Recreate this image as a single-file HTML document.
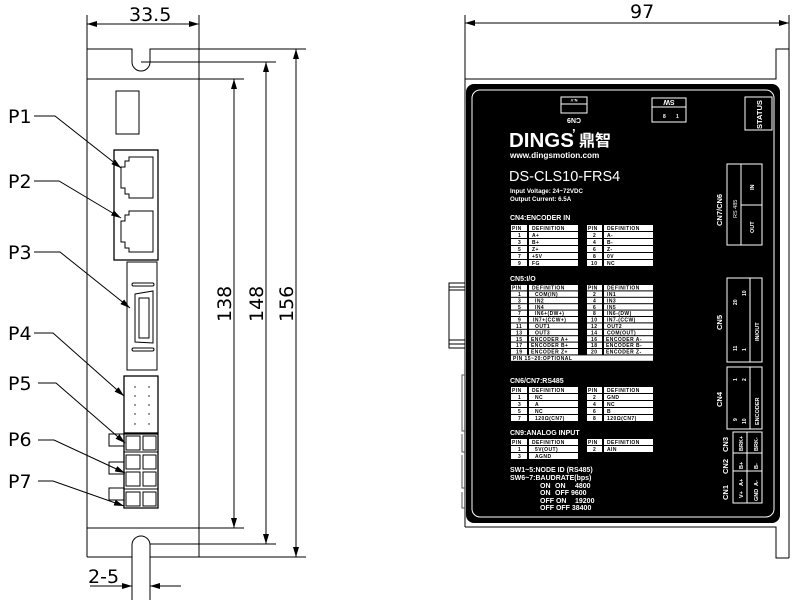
<!DOCTYPE html>
<html><head><meta charset="utf-8"><style>
html,body{margin:0;padding:0;background:#fff;width:800px;height:601px;overflow:hidden}
svg{display:block}
.d{font-family:"DejaVu Sans","Liberation Sans",sans-serif}
.t{font-family:"Liberation Sans",sans-serif;font-weight:bold;font-size:5px;letter-spacing:0.45px;fill:#000}
.w{font-family:"Liberation Sans",sans-serif;font-weight:bold;fill:#fff}
</style></head><body>
<svg width="800" height="601" viewBox="0 0 800 601" xmlns="http://www.w3.org/2000/svg">
<defs>
<marker id="a" viewBox="0 0 10 6" refX="10" refY="3" markerWidth="10" markerHeight="6" orient="auto-start-reverse" markerUnits="userSpaceOnUse"><path d="M0,0L10,3L0,6z" fill="#000"/></marker>
</defs>
<g fill="none" stroke="#000" stroke-width="1">
<line x1="87" y1="15" x2="87" y2="557"/>
<line x1="199" y1="15" x2="199" y2="557"/>
<line x1="87" y1="24" x2="199" y2="24" marker-start="url(#a)" marker-end="url(#a)"/>
<path d="M87,49H132V62A9,9 0 0 0 150,62V49H306"/>
<line x1="141" y1="62" x2="276" y2="62"/>
<line x1="87" y1="79" x2="244" y2="79"/>
<line x1="87" y1="528" x2="244" y2="528"/>
<line x1="141" y1="544" x2="276" y2="544"/>
<line x1="87" y1="557" x2="306" y2="557"/>
<path d="M132,600V545A9,9 0 0 1 150,545V600" fill="#fff"/>
<line x1="234" y1="79" x2="234" y2="528" marker-start="url(#a)" marker-end="url(#a)"/>
<line x1="266" y1="62" x2="266" y2="544" marker-start="url(#a)" marker-end="url(#a)"/>
<line x1="296" y1="49" x2="296" y2="557" marker-start="url(#a)" marker-end="url(#a)"/>
<line x1="90" y1="586" x2="132" y2="586" marker-end="url(#a)"/>
<line x1="181" y1="586" x2="150" y2="586" marker-end="url(#a)"/>
<rect x="116" y="91" width="23" height="43"/>
<rect x="114" y="150" width="44" height="110" stroke-width="1.3"/>
<path d="M129,157H153V198H129V194H125V188H121V167H125V161H129Z"/>
<path d="M129,211H153V252H129V248H125V242H121V221H125V215H129Z"/>
<rect x="127" y="262" width="30" height="108" fill="#fff"/>
<rect x="132" y="283" width="22" height="3" rx="1.5"/>
<rect x="132" y="348" width="22" height="3" rx="1.5"/>
<path d="M135,294L153,291V343L135,342Z"/>
<rect x="139" y="298" width="10" height="40"/>
<rect x="124" y="376" width="34" height="57" stroke-width="1.3"/>
<path d="M124,434H158V508H124Z" stroke-width="1.3"/>
<rect x="126" y="436" width="14" height="14"/><rect x="143" y="436" width="13" height="14"/>
<rect x="126" y="455" width="14" height="14"/><rect x="143" y="455" width="13" height="14"/>
<rect x="126" y="472" width="14" height="14"/><rect x="143" y="472" width="13" height="14"/>
<rect x="126" y="492" width="14" height="14"/><rect x="143" y="492" width="13" height="14"/>
<line x1="124" y1="452" x2="158" y2="452"/><line x1="124" y1="489" x2="158" y2="489"/>
<path d="M124,434H109V446H124M124,462H109V474H124M124,488H109V500H124"/>
<path d="M34,116H55L121,168" marker-end="url(#a)"/>
<path d="M34,181H59L121,218" marker-end="url(#a)"/>
<path d="M34,252H60L130,308" marker-end="url(#a)"/>
<path d="M34,333H53L124,396" marker-end="url(#a)"/>
<path d="M38,383H56L125,443" marker-end="url(#a)"/>
<path d="M38,440H54L125,473" marker-end="url(#a)"/>
<path d="M38,481H53L124,506" marker-end="url(#a)"/>
</g>
<g fill="#000"><circle cx="135" cy="387" r=".7"/><circle cx="149" cy="387" r=".7"/><circle cx="135" cy="396" r=".7"/><circle cx="149" cy="396" r=".7"/><circle cx="135" cy="405" r=".7"/><circle cx="149" cy="405" r=".7"/><circle cx="135" cy="414" r=".7"/><circle cx="149" cy="414" r=".7"/><circle cx="135" cy="424" r=".7"/><circle cx="149" cy="424" r=".7"/></g>
<g class="d" font-size="19" fill="#000">
<text x="129" y="21">33.5</text>
<text x="8" y="123">P1</text><text x="8" y="188">P2</text><text x="8" y="259">P3</text>
<text x="8" y="340">P4</text><text x="8" y="390">P5</text><text x="8" y="446">P6</text><text x="8" y="488">P7</text>
<text x="88" y="583">2-5</text>
<text transform="translate(231,322) rotate(-90)">138</text>
<text transform="translate(263,322) rotate(-90)">148</text>
<text transform="translate(293,322) rotate(-90)">156</text>
<text x="630" y="18">97</text>
</g>
<g fill="none" stroke="#000" stroke-width="1">
<line x1="465" y1="15" x2="465" y2="527"/>
<line x1="789" y1="15" x2="789" y2="558"/>
<line x1="465" y1="23" x2="789" y2="23" marker-start="url(#a)" marker-end="url(#a)"/>
<path d="M789,49H776V79H465"/>
<path d="M465,527H776V558H789"/>
<path d="M465,283H449V290H465M449,287H465M449,290V340H465M449,340V348H465M449,344H465"/>
<path d="M465,375H462V431H465M462,434V452H465M462,455V488H465M462,492V508H465" stroke="#555"/>
</g>
<rect x="466" y="84" width="314" height="439" rx="8" fill="#000"/>
<rect x="472" y="90" width="302" height="427" rx="8" fill="none" stroke="#fff" stroke-width="1"/>
<g fill="none" stroke="#fff" stroke-width="1">
<rect x="561" y="97" width="26" height="16"/><line x1="561" y1="104" x2="587" y2="104"/>
<rect x="652" y="98" width="34" height="24"/><line x1="652" y1="107" x2="686" y2="107"/>
<rect x="745" y="97" width="27" height="33"/>
<rect x="727" y="164" width="35" height="81"/><line x1="741" y1="164" x2="741" y2="245"/><line x1="741" y1="205" x2="762" y2="205"/>
<rect x="727" y="278" width="35" height="84"/><line x1="750" y1="278" x2="750" y2="362"/>
<rect x="727" y="367" width="35" height="62"/><line x1="750" y1="367" x2="750" y2="429"/>
<rect x="733" y="432" width="29" height="71"/><line x1="747" y1="432" x2="747" y2="503"/><line x1="733" y1="453" x2="762" y2="453"/><line x1="733" y1="471" x2="762" y2="471"/>
</g>
<g class="w">
<text x="574" y="103" font-size="4" text-anchor="middle" transform="rotate(180 574 101)">N-V</text>
<text x="574" y="124" font-size="7" text-anchor="middle" transform="rotate(180 574 121)">CN9</text>
<text x="669" y="106" font-size="7" text-anchor="middle" transform="rotate(180 669 103)">SW</text>
<text x="663" y="118" font-size="5">8</text><text x="676" y="118" font-size="5">1</text>
<text transform="translate(762,129) rotate(-90)" font-size="7.5">STATUS</text>
<text x="509" y="147" font-size="20.5">DINGS</text>
<text x="572" y="138" font-size="13">’</text>
<text x="579" y="146" font-size="16" style="font-family:'Noto Sans CJK SC',sans-serif;font-weight:bold">鼎智</text>
<text x="510" y="158" font-size="8.2">www.dingsmotion.com</text>
<text x="509" y="181" font-size="14.5" style="font-weight:normal">DS-CLS10-FRS4</text>
<text x="510" y="193" font-size="6.2">Input Voltage: 24~72VDC</text>
<text x="510" y="201" font-size="6.2">Output Current: 6.5A</text>
<text x="510" y="220" font-size="7">CN4:ENCODER IN</text>
<text x="510" y="281" font-size="7">CN5:I/O</text>
<text x="510" y="383" font-size="7">CN6/CN7:RS485</text>
<text x="510" y="435" font-size="7">CN9:ANALOG INPUT</text>
<text x="510" y="472" font-size="7">SW1~5:NODE ID (RS485)</text>
<text x="510" y="480" font-size="7">SW6~7:BAUDRATE(bps)</text>
<text font-size="7"><tspan x="540" y="488">ON</tspan><tspan x="555" y="488">ON</tspan><tspan x="575" y="488">4800</tspan></text>
<text font-size="7"><tspan x="540" y="495">ON</tspan><tspan x="555" y="495">OFF 9600</tspan></text>
<text font-size="7"><tspan x="540" y="503">OFF ON</tspan><tspan x="575" y="503">19200</tspan></text>
<text font-size="7"><tspan x="540" y="510">OFF OFF 38400</tspan></text>
<text transform="translate(722,226) rotate(-90)" font-size="7.5">CN7/CN6</text>
<text transform="translate(737,218) rotate(-90)" font-size="5.5" style="font-weight:normal">RS 485</text>
<text transform="translate(754,190) rotate(-90)" font-size="5.5">IN</text>
<text transform="translate(754,233) rotate(-90)" font-size="5.5">OUT</text>
<text transform="translate(722,330) rotate(-90)" font-size="7.5">CN5</text>
<text transform="translate(737,305) rotate(-90)" font-size="5">20</text>
<text transform="translate(746,296) rotate(-90)" font-size="5">10</text>
<text transform="translate(737,351) rotate(-90)" font-size="5">11</text>
<text transform="translate(746,351) rotate(-90)" font-size="5">1</text>
<text transform="translate(759,341) rotate(-90)" font-size="5.5">IN/OUT</text>
<text transform="translate(722,407) rotate(-90)" font-size="7.5">CN4</text>
<text transform="translate(737,381) rotate(-90)" font-size="5">1</text>
<text transform="translate(746,381) rotate(-90)" font-size="5">2</text>
<text transform="translate(737,421) rotate(-90)" font-size="5">9</text>
<text transform="translate(746,424) rotate(-90)" font-size="5">10</text>
<text transform="translate(759,425) rotate(-90)" font-size="5.5">ENCODER</text>
<text transform="translate(728,452) rotate(-90)" font-size="7.5">CN3</text>
<text transform="translate(728,474) rotate(-90)" font-size="7.5">CN2</text>
<text transform="translate(728,500) rotate(-90)" font-size="7.5">CN1</text>
<text transform="translate(743,451) rotate(-90)" font-size="5.5">BRK+</text>
<text transform="translate(758,451) rotate(-90)" font-size="5.5">BRK-</text>
<text transform="translate(743,469) rotate(-90)" font-size="5.5">B+</text>
<text transform="translate(758,469) rotate(-90)" font-size="5.5">B-</text>
<text transform="translate(743,486) rotate(-90)" font-size="5.5">A+</text>
<text transform="translate(758,486) rotate(-90)" font-size="5.5">A-</text>
<text transform="translate(743,498) rotate(-90)" font-size="5.5">V+</text>
<text transform="translate(758,501) rotate(-90)" font-size="5.5">GND</text>
</g>
<g fill="#fff">
<g id="r4">
<rect x="511" y="225" width="16" height="6"/><rect x="529" y="225" width="49" height="6"/><rect x="587" y="225" width="15" height="6"/><rect x="604" y="225" width="49" height="6"/>
</g>
<use href="#r4" y="7"/><use href="#r4" y="14"/><use href="#r4" y="21"/><use href="#r4" y="28"/><use href="#r4" y="35"/>
<g id="r5">
<rect x="511" y="285" width="16" height="5.4"/><rect x="529" y="285" width="49" height="5.4"/><rect x="587" y="285" width="15" height="5.4"/><rect x="604" y="285" width="49" height="5.4"/>
</g>
<use href="#r5" y="6.4"/><use href="#r5" y="12.8"/><use href="#r5" y="19.2"/><use href="#r5" y="25.6"/><use href="#r5" y="32"/><use href="#r5" y="38.4"/><use href="#r5" y="44.8"/><use href="#r5" y="51.2"/><use href="#r5" y="57.6"/><use href="#r5" y="64"/>
<rect x="511" y="355.4" width="142" height="5.4"/>
<g id="r6">
<rect x="511" y="387" width="16" height="6"/><rect x="529" y="387" width="49" height="6"/><rect x="587" y="387" width="15" height="6"/><rect x="604" y="387" width="49" height="6"/>
</g>
<use href="#r6" y="7"/><use href="#r6" y="14"/><use href="#r6" y="21"/><use href="#r6" y="28"/>
<use href="#r6" y="52"/><use href="#r6" y="59"/>
<rect x="511" y="453" width="16" height="6"/><rect x="529" y="453" width="49" height="6"/>
</g>
<path d="M587,459L602,453M604,459L653,453" stroke="#000" stroke-width=".6"/>
<g class="t">
<text x="512" y="230">PIN</text><text x="532" y="230">DEFINITION</text><text x="588" y="230">PIN</text><text x="607" y="230">DEFINITION</text>
<text x="518" y="237">1</text><text x="532" y="237">A+</text><text x="593" y="237">2</text><text x="607" y="237">A-</text>
<text x="518" y="244">3</text><text x="532" y="244">B+</text><text x="593" y="244">4</text><text x="607" y="244">B-</text>
<text x="518" y="251">5</text><text x="532" y="251">Z+</text><text x="593" y="251">6</text><text x="607" y="251">Z-</text>
<text x="518" y="258">7</text><text x="532" y="258">+5V</text><text x="593" y="258">8</text><text x="607" y="258">0V</text>
<text x="518" y="265">9</text><text x="532" y="265">FG</text><text x="591" y="265">10</text><text x="607" y="265">NC</text>
<text x="512" y="289.6">PIN</text><text x="532" y="289.6">DEFINITION</text><text x="588" y="289.6">PIN</text><text x="607" y="289.6">DEFINITION</text>
<text x="518" y="296">1</text><text x="535" y="296">COM(IN)</text><text x="593" y="296">2</text><text x="607" y="296">IN1</text>
<text x="518" y="302.4">3</text><text x="535" y="302.4">IN2</text><text x="593" y="302.4">4</text><text x="607" y="302.4">IN3</text>
<text x="518" y="308.8">5</text><text x="535" y="308.8">IN4</text><text x="593" y="308.8">6</text><text x="607" y="308.8">IN5</text>
<text x="518" y="315.2">7</text><text x="535" y="315.2">IN6+(DW+)</text><text x="593" y="315.2">8</text><text x="607" y="315.2">IN6-(DW)</text>
<text x="518" y="321.6">9</text><text x="533" y="321.6">IN7+(CCW+)</text><text x="591" y="321.6">10</text><text x="607" y="321.6">IN7-(CCW)</text>
<text x="516" y="328">11</text><text x="535" y="328">OUT1</text><text x="591" y="328">12</text><text x="607" y="328">OUT2</text>
<text x="516" y="334.4">13</text><text x="535" y="334.4">OUT3</text><text x="591" y="334.4">14</text><text x="607" y="334.4">COM(OUT)</text>
<text x="516" y="340.8">15</text><text x="531" y="340.8">ENCODER A+</text><text x="591" y="340.8">16</text><text x="606" y="340.8">ENCODER A-</text>
<text x="516" y="347.2">17</text><text x="531" y="347.2">ENCODER B+</text><text x="591" y="347.2">18</text><text x="606" y="347.2">ENCODER B-</text>
<text x="516" y="353.6">19</text><text x="531" y="353.6">ENCODER Z+</text><text x="591" y="353.6">20</text><text x="606" y="353.6">ENCODER Z-</text>
<text x="513" y="360">PIN 15~20:OPTIONAL</text>
<text x="512" y="392">PIN</text><text x="532" y="392">DEFINITION</text><text x="588" y="392">PIN</text><text x="607" y="392">DEFINITION</text>
<text x="518" y="399">1</text><text x="535" y="399">NC</text><text x="593" y="399">2</text><text x="607" y="399">GND</text>
<text x="518" y="406">3</text><text x="535" y="406">A</text><text x="593" y="406">4</text><text x="607" y="406">NC</text>
<text x="518" y="413">5</text><text x="535" y="413">NC</text><text x="593" y="413">6</text><text x="607" y="413">B</text>
<text x="518" y="420">7</text><text x="535" y="420">120Ω(CN7)</text><text x="593" y="420">8</text><text x="607" y="420">120Ω(CN7)</text>
<text x="512" y="444">PIN</text><text x="532" y="444">DEFINITION</text><text x="588" y="444">PIN</text><text x="607" y="444">DEFINITION</text>
<text x="518" y="451">1</text><text x="535" y="451">5V(OUT)</text><text x="593" y="451">2</text><text x="607" y="451">AIN</text>
<text x="518" y="458">3</text><text x="535" y="458">AGND</text>
</g>
</svg>
</body></html>
